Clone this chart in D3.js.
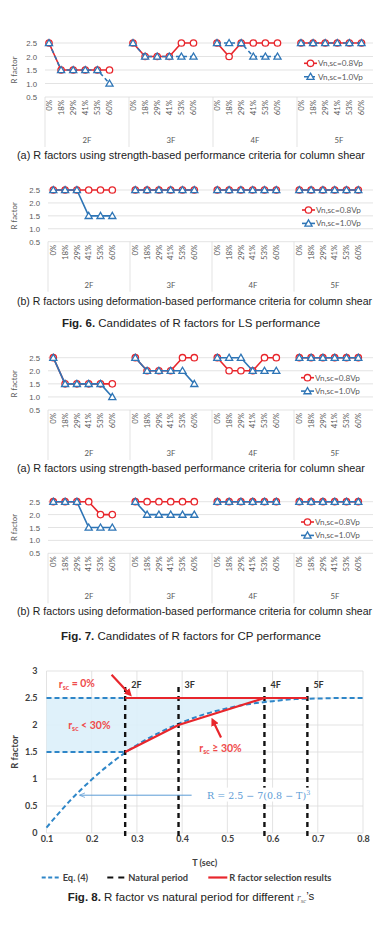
<!DOCTYPE html>
<html>
<head>
<meta charset="utf-8">
<script src="https://cdn.jsdelivr.net/npm/d3@7"></script>
<style>
  body { margin: 0; background: #fff; }
  svg { display: block; }
</style>
</head>
<body>
<div id="fig"></div>
<script>
// ---- data: Fig. 6 / Fig. 7 panels ----
const groups = ["2F", "3F", "4F", "5F"];
const rates = ["0%", "18%", "29%", "41%", "53%", "60%"];
const rTicks = [0.5, 1.0, 1.5, 2.0, 2.5];
const seriesNames = ["Vn,sc=0.8Vp", "Vn,sc=1.0Vp"];

// LS performance
const lsStrength08 = [2.5, 1.5, 1.5, 1.5, 1.5, 1.5, 2.5, 2.0, 2.0, 2.0, 2.5, 2.5, 2.5, 2.0, 2.5, 2.5, 2.5, 2.5, 2.5, 2.5, 2.5, 2.5, 2.5, 2.5];
const lsStrength10 = [2.5, 1.5, 1.5, 1.5, 1.5, 1.0, 2.5, 2.0, 2.0, 2.0, 2.0, 2.0, 2.5, 2.5, 2.5, 2.0, 2.0, 2.0, 2.5, 2.5, 2.5, 2.5, 2.5, 2.5];
const lsDeform08 = [2.5, 2.5, 2.5, 2.5, 2.5, 2.5, 2.5, 2.5, 2.5, 2.5, 2.5, 2.5, 2.5, 2.5, 2.5, 2.5, 2.5, 2.5, 2.5, 2.5, 2.5, 2.5, 2.5, 2.5];
const lsDeform10 = [2.5, 2.5, 2.5, 1.5, 1.5, 1.5, 2.5, 2.5, 2.5, 2.5, 2.5, 2.5, 2.5, 2.5, 2.5, 2.5, 2.5, 2.5, 2.5, 2.5, 2.5, 2.5, 2.5, 2.5];
// CP performance
const cpStrength08 = [2.5, 1.5, 1.5, 1.5, 1.5, 1.5, 2.5, 2.0, 2.0, 2.0, 2.5, 2.5, 2.5, 2.0, 2.0, 2.0, 2.5, 2.5, 2.5, 2.5, 2.5, 2.5, 2.5, 2.5];
const cpStrength10 = [2.5, 1.5, 1.5, 1.5, 1.5, 1.0, 2.5, 2.0, 2.0, 2.0, 2.0, 1.5, 2.5, 2.5, 2.5, 2.0, 2.0, 2.0, 2.5, 2.5, 2.5, 2.5, 2.5, 2.5];
const cpDeform08 = [2.5, 2.5, 2.5, 2.5, 2.0, 2.0, 2.5, 2.5, 2.5, 2.5, 2.5, 2.5, 2.5, 2.5, 2.5, 2.5, 2.5, 2.5, 2.5, 2.5, 2.5, 2.5, 2.5, 2.5];
const cpDeform10 = [2.5, 2.5, 2.5, 1.5, 1.5, 1.5, 2.5, 2.0, 2.0, 2.0, 2.0, 2.0, 2.5, 2.5, 2.5, 2.5, 2.5, 2.5, 2.5, 2.5, 2.5, 2.5, 2.5, 2.5];

// ---- data: Fig. 8 ----
const tTicks = [0.1, 0.2, 0.3, 0.4, 0.5, 0.6, 0.7, 0.8];
const rTicks8 = [0, 0.5, 1, 1.5, 2, 2.5, 3];
const floors = ["2F", "3F", "4F", "5F"];
const naturalPeriods = [0.274, 0.392, 0.582, 0.677];
const rSelectUpper = [2.5, 2.5, 2.5, 2.5]; // r_sc = 0%
const rSelectLower = [1.5, 2.0, 2.5, null]; // r_sc >= 30%
const rBand = [1.5, 2.5];
const eqT = [0.10, 0.15, 0.20, 0.25, 0.30, 0.35, 0.40, 0.45, 0.50, 0.55, 0.60, 0.65, 0.70, 0.75, 0.80];
const eqR = [0.10, 0.58, 0.99, 1.34, 1.63, 1.86, 2.05, 2.20, 2.31, 2.39, 2.44, 2.48, 2.49, 2.50, 2.50];

const W = 373, H = 932;
const red = "#e8262c", blue = "#2e75b6", grey = "#595959", gridC = "#dcdcdc";
const svg = d3.select("#fig").append("svg").attr("width", W).attr("height", H).attr("font-family", "Lato, sans-serif");

const defs = svg.append("defs");
defs.append("marker").attr("id", "arrRed").attr("viewBox", "0 0 10 10").attr("refX", 6).attr("refY", 5)
  .attr("markerWidth", 3.6).attr("markerHeight", 3.6).attr("orient", "auto")
  .append("path").attr("d", "M0,0 L10,5 L0,10 z").attr("fill", red);
defs.append("marker").attr("id", "arrBlue").attr("viewBox", "0 0 10 10").attr("refX", 9).attr("refY", 5)
  .attr("markerWidth", 6).attr("markerHeight", 6).attr("orient", "auto")
  .append("path").attr("d", "M0,1 L10,5 L0,9").attr("fill", "none").attr("stroke", "#5b9bd5").attr("stroke-width", 1.2);

// ---- small-multiple panels ----
const panels = [
  { s08: lsStrength08, s10: lsStrength10, top: 43, bottom: 97, left: 45, gw: 84, off: 4, step: 12.1, legX: 304, legDy: 20.3, blueDash: "4,3",
    caption: "(a) R factors using strength-based performance criteria for column shear", capY: 158.5, capW: 348 },
  { s08: lsDeform08, s10: lsDeform10, top: 190, bottom: 241.7, left: 48, gw: 82, off: 5.3, step: 11.8, legX: 302, legDy: 20, blueDash: null,
    caption: "(b) R factors using deformation-based performance criteria for column shear", capY: 305.2, capW: 355 },
  { s08: cpStrength08, s10: cpStrength10, top: 357.7, bottom: 410, left: 48, gw: 82, off: 5.3, step: 11.8, legX: 301, legDy: 20, blueDash: null,
    caption: "(a) R factors using strength-based performance criteria for column shear", capY: 472.2, capW: 348 },
  { s08: cpDeform08, s10: cpDeform10, top: 501.7, bottom: 553.3, left: 48, gw: 82, off: 5.3, step: 11.8, legX: 301, legDy: 20.3, blueDash: null,
    caption: "(b) R factors using deformation-based performance criteria for column shear", capY: 614.5, capW: 355 },
];

const triangle = d3.symbol().type(d3.symbolTriangle).size(22);

panels.forEach((cfg) => {
  const g = svg.append("g");
  const x0 = d3.scaleBand().domain(groups).range([cfg.left, cfg.left + cfg.gw * groups.length]);
  const x1 = d3.scalePoint().domain(rates).range([cfg.off, cfg.off + cfg.step * (rates.length - 1)]);
  const y = d3.scaleLinear().domain([0.5, 2.5]).range([cfg.bottom, cfg.top]);
  const xAt = (i) => x0(groups[Math.floor(i / rates.length)]) + x1(rates[i % rates.length]);

  // gridlines
  g.append("g").selectAll("line").data(rTicks).join("line")
    .attr("x1", cfg.left).attr("x2", W).attr("y1", (d) => y(d)).attr("y2", (d) => y(d))
    .attr("stroke", gridC).attr("stroke-width", 0.8);

  // y axis
  const ya = g.append("g").attr("transform", `translate(${cfg.left - 6},0)`)
    .call(d3.axisLeft(y).tickValues(rTicks).tickFormat(d3.format(".1f")).tickSize(0).tickPadding(2));
  ya.select(".domain").remove();
  ya.selectAll("text").attr("fill", grey).attr("font-size", 7.8);

  g.append("text").attr("transform", `translate(17,${(cfg.top + cfg.bottom) / 2}) rotate(-90)`)
    .attr("text-anchor", "middle").attr("font-size", 7.8).attr("fill", grey).text("R factor");

  // category labels
  const cats = d3.range(groups.length * rates.length);
  g.append("g").selectAll("text").data(cats).join("text")
    .attr("transform", (i) => `translate(${xAt(i)},${cfg.bottom + 3}) rotate(-90)`)
    .attr("dy", "0.35em").attr("text-anchor", "end").attr("font-size", 7.8).attr("fill", grey)
    .text((i) => rates[i % rates.length]);

  g.append("g").selectAll("line").data(groups).join("line")
    .attr("x1", (d) => x0(d)).attr("x2", (d) => x0(d))
    .attr("y1", cfg.bottom).attr("y2", cfg.bottom + 50)
    .attr("stroke", gridC).attr("stroke-width", 0.8);
  g.append("g").selectAll("text").data(groups).join("text")
    .attr("x", (d) => x0(d) + x0.bandwidth() / 2).attr("y", cfg.bottom + 46)
    .attr("text-anchor", "middle").attr("font-size", 7.8).attr("fill", grey).text((d) => d);

  // series
  const line = d3.line().x((d) => xAt(d.i)).y((d) => y(d.v));
  const series = [
    { vals: cfg.s08, color: red, dash: null, mark: "circle" },
    { vals: cfg.s10, color: blue, dash: cfg.blueDash, mark: "tri" },
  ];
  series.forEach((s) => {
    const pts = s.vals.map((v, i) => ({ i, v }));
    const sg = g.append("g");
    groups.forEach((gr, k) => {
      sg.append("path").datum(pts.slice(k * rates.length, (k + 1) * rates.length))
        .attr("d", line).attr("fill", "none").attr("stroke", s.color).attr("stroke-width", 1.6)
        .attr("stroke-dasharray", s.dash);
    });
    if (s.mark === "circle") {
      sg.selectAll("circle").data(pts).join("circle")
        .attr("cx", (d) => xAt(d.i)).attr("cy", (d) => y(d.v)).attr("r", 3.2)
        .attr("fill", "#fff").attr("stroke", s.color).attr("stroke-width", 1.3);
    } else {
      sg.selectAll(".tri").data(pts).join("path").attr("class", "tri")
        .attr("transform", (d) => `translate(${xAt(d.i)},${y(d.v) + 0.6})`).attr("d", triangle)
        .attr("fill", "#fff").attr("stroke", s.color).attr("stroke-width", 1.3);
    }
  });

  // legend
  const leg = g.append("g");
  series.forEach((s, k) => {
    const ly = cfg.top + cfg.legDy + k * 13.4;
    const lx = cfg.legX;
    leg.append("line").attr("x1", lx).attr("x2", lx + 13).attr("y1", ly).attr("y2", ly)
      .attr("stroke", s.color).attr("stroke-width", 1.6).attr("stroke-dasharray", s.dash);
    if (s.mark === "circle") {
      leg.append("circle").attr("cx", lx + 6.5).attr("cy", ly).attr("r", 3.2)
        .attr("fill", "#fff").attr("stroke", s.color).attr("stroke-width", 1.3);
    } else {
      leg.append("path").attr("transform", `translate(${lx + 6.5},${ly + 0.6})`).attr("d", triangle)
        .attr("fill", "#fff").attr("stroke", s.color).attr("stroke-width", 1.3);
    }
    leg.append("text").attr("x", lx + 14).attr("y", ly).attr("dy", "0.35em")
      .attr("font-size", 8.2).attr("fill", grey).text(seriesNames[k]);
  });

  // caption
  svg.append("text").attr("x", 17).attr("y", cfg.capY).attr("font-family", "Liberation Sans, Arial, sans-serif")
    .attr("font-size", 10.3).attr("fill", "#222").attr("textLength", cfg.capW).attr("lengthAdjust", "spacingAndGlyphs")
    .text(cfg.caption);
});

// figure titles
function figTitle(y, num, rest) {
  const t = svg.append("text").attr("x", 191).attr("y", y).attr("text-anchor", "middle")
    .attr("font-family", "Liberation Sans, Arial, sans-serif").attr("font-size", 11.5).attr("fill", "#222");
  t.append("tspan").attr("font-weight", "bold").text(num);
  t.append("tspan").text(rest);
  return t;
}
figTitle(327, "Fig. 6.", " Candidates of R factors for LS performance");
figTitle(640, "Fig. 7.", " Candidates of R factors for CP performance");

// ---- Fig. 8 ----
const f8 = svg.append("g").attr("font-weight", "bold");
const xT = d3.scaleLinear().domain([0.1, 0.8]).range([46.5, 363]);
const yR = d3.scaleLinear().domain([0, 3]).range([833, 671]);

f8.append("g").selectAll("line").data(rTicks8).join("line")
  .attr("x1", xT(0.1)).attr("x2", xT(0.8)).attr("y1", (d) => yR(d)).attr("y2", (d) => yR(d))
  .attr("stroke", gridC).attr("stroke-width", 0.8);
f8.append("g").selectAll("line").data(tTicks).join("line")
  .attr("x1", (d) => xT(d)).attr("x2", (d) => xT(d)).attr("y1", yR(0)).attr("y2", yR(3))
  .attr("stroke", gridC).attr("stroke-width", 0.8);

const xa = f8.append("g").attr("transform", `translate(0,${yR(0)})`)
  .call(d3.axisBottom(xT).tickValues(tTicks).tickFormat(d3.format(".1f")).tickSize(0).tickPadding(3));
const yaF = f8.append("g").attr("transform", `translate(${xT(0.1)},0)`)
  .call(d3.axisLeft(yR).tickValues(rTicks8).tickFormat((d) => String(d)).tickSize(0).tickPadding(9));
[xa, yaF].forEach((a) => {
  a.select(".domain").remove();
  a.selectAll("text").attr("font-size", 9).attr("fill", "#404040").attr("font-family", "Lato, sans-serif").attr("font-weight", "bold");
});
f8.append("text").attr("x", (xT(0.1) + xT(0.8)) / 2).attr("y", 866).attr("text-anchor", "middle")
  .attr("font-size", 9).attr("fill", "#404040").text("T (sec)");
f8.append("text").attr("transform", `translate(18,752) rotate(-90)`).attr("text-anchor", "middle")
  .attr("font-size", 9.5).attr("fill", "#404040").text("R factor");

// shaded region between R band and Eq. (4)
const eqPts = eqT.map((t, i) => ({ t, r: eqR[i] }));
const shade = [{ t: eqT[0], lo: rBand[0] }, { t: naturalPeriods[0], lo: rBand[0] }]
  .concat(eqPts.filter((d) => d.t > naturalPeriods[0]).map((d) => ({ t: d.t, lo: d.r })));
f8.append("path").datum(shade)
  .attr("d", d3.area().x((d) => xT(d.t)).y0((d) => yR(d.lo)).y1(yR(rBand[1])).curve(d3.curveMonotoneX))
  .attr("fill", "#dbeffa").attr("opacity", 0.9);

// Eq. (4) and band limits
const eqBlue = "#2e86c8";
f8.append("path").datum(eqPts)
  .attr("d", d3.line().x((d) => xT(d.t)).y((d) => yR(d.r)).curve(d3.curveMonotoneX))
  .attr("fill", "none").attr("stroke", eqBlue).attr("stroke-width", 2).attr("stroke-dasharray", "5,3");
f8.append("g").selectAll("line").data(rBand).join("line")
  .attr("x1", xT(eqT[0])).attr("x2", xT(naturalPeriods[0])).attr("y1", (d) => yR(d)).attr("y2", (d) => yR(d))
  .attr("stroke", eqBlue).attr("stroke-width", 2).attr("stroke-dasharray", "5,3");

// natural periods
f8.append("g").selectAll("line").data(naturalPeriods).join("line")
  .attr("x1", (d) => xT(d)).attr("x2", (d) => xT(d)).attr("y1", yR(0) + 3).attr("y2", yR(2.78))
  .attr("stroke", "#111").attr("stroke-width", 2.4).attr("stroke-dasharray", "5,4");
f8.append("g").selectAll("text").data(floors).join("text")
  .attr("x", (d, i) => xT(naturalPeriods[i]) + 6).attr("y", yR(2.74)).attr("dy", "0.35em")
  .attr("font-size", 9).attr("fill", "#333").text((d) => d);

// R factor selection results
const selLine = d3.line().defined((d) => d.r != null).x((d) => xT(d.t)).y((d) => yR(d.r));
[rSelectUpper, rSelectLower].forEach((arr) => {
  f8.append("path").datum(arr.map((r, i) => ({ t: naturalPeriods[i], r })))
    .attr("d", selLine).attr("fill", "none").attr("stroke", red).attr("stroke-width", 2.2);
});

// annotations
function rsc(x, y, rest) {
  const t = f8.append("text").attr("x", x).attr("y", y).attr("dy", "0.35em").attr("fill", "#ef4b4b").attr("font-size", 10.5);
  t.append("tspan").text("r");
  t.append("tspan").attr("font-size", 7).attr("dy", "0.35em").text("sc");
  t.append("tspan").attr("dy", "-0.25em").text(rest);
}
rsc(xT(0.127), yR(2.76), " = 0%");
rsc(xT(0.148), yR(2.0), " < 30%");
rsc(xT(0.438), yR(1.57), " \u2265 30%");

f8.append("line").attr("x1", xT(0.244)).attr("y1", yR(2.93)).attr("x2", xT(0.284)).attr("y2", yR(2.57))
  .attr("stroke", red).attr("stroke-width", 2.2).attr("marker-end", "url(#arrRed)");
f8.append("line").attr("x1", xT(0.486)).attr("y1", yR(1.77)).attr("x2", xT(0.468)).attr("y2", yR(2.08))
  .attr("stroke", red).attr("stroke-width", 2.2).attr("marker-end", "url(#arrRed)");

f8.append("line").attr("x1", xT(0.421)).attr("x2", xT(0.174)).attr("y1", yR(0.7)).attr("y2", yR(0.7))
  .attr("stroke", "#5b9bd5").attr("stroke-width", 1).attr("marker-end", "url(#arrBlue)");
const eqBox = f8.append("rect").attr("fill", "#fff");
const eqText = f8.append("text").attr("x", xT(0.455)).attr("y", yR(0.7)).attr("dy", "0.35em")
  .attr("font-family", "DejaVu Serif, serif").attr("font-weight", "normal").attr("font-size", 9.5).attr("fill", "#5b9bd5");
eqText.append("tspan").text("R = 2.5 \u2212 7(0.8 \u2212 T)");
eqText.append("tspan").attr("font-size", 6.5).attr("dy", "-0.6em").text("3");
const bb = eqText.node().getBBox();
eqBox.attr("x", bb.x - 2).attr("y", bb.y - 1).attr("width", bb.width + 4).attr("height", bb.height + 2);

// legend
const legItems = [
  { x: 41.7, label: "Eq. (4)", color: eqBlue, dash: "4,2.5", w: 2 },
  { x: 107.3, label: "Natural period", color: "#111", dash: "6,5", w: 2 },
  { x: 208.3, label: "R factor selection results", color: red, dash: null, w: 2.2 },
];
legItems.forEach((d) => {
  f8.append("line").attr("x1", d.x).attr("x2", d.x + 19).attr("y1", 877.5).attr("y2", 877.5)
    .attr("stroke", d.color).attr("stroke-width", d.w).attr("stroke-dasharray", d.dash);
  f8.append("text").attr("x", d.x + 21).attr("y", 877.5).attr("dy", "0.35em")
    .attr("font-size", 9.3).attr("fill", "#404040").text(d.label);
});

// Fig. 8 caption
const c8 = figTitle(901, "Fig. 8.", " R factor vs natural period for different ");
c8.append("tspan").attr("font-family", "Liberation Serif, serif").attr("font-style", "italic").attr("fill", "#666").attr("font-size", 10).text("r");
c8.append("tspan").attr("font-family", "Liberation Serif, serif").attr("font-style", "italic").attr("fill", "#666").attr("font-size", 6.5).attr("dy", "0.3em").text("sc");
c8.append("tspan").attr("dy", "-0.3em").text("\u2019s");
</script>
</body>
</html>
